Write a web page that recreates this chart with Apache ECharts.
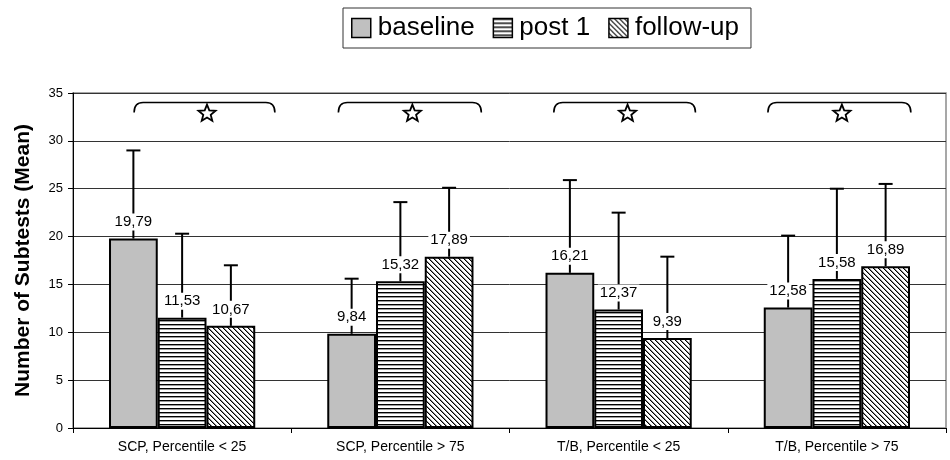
<!DOCTYPE html>
<html>
<head>
<meta charset="utf-8">
<script src="https://cdn.jsdelivr.net/npm/echarts@6/dist/echarts.min.js"></script>
<style>
html,body{margin:0;padding:0;background:#fff;}
#chart{width:950px;height:460px;}
</style>
</head>
<body>
<div id="chart"></div>
<script>
const categories = ['SCP, Percentile < 25', 'SCP, Percentile > 75', 'T/B, Percentile < 25', 'T/B, Percentile > 75'];
const seriesNames = ['baseline', 'post 1', 'follow-up'];
const baseline = [19.79, 9.84, 16.21, 12.58];
const post1 = [11.53, 15.32, 12.37, 15.58];
const followUp = [10.67, 17.89, 9.39, 16.89];
const baselineErrTop = [29.0, 15.6, 25.9, 20.1];
const post1ErrTop = [20.3, 23.6, 22.5, 25.0];
const followUpErrTop = [17.0, 25.1, 17.9, 25.5];
// significance braces: start/end/star position as fractions of the category band, relative to its centre
const braceFrom = [-0.22, -0.284, -0.297, -0.316];
const braceTo = [0.425, 0.371, 0.352, 0.339];
const starAt = [0.114, 0.055, 0.041, 0.023];
const braceTopValue = [34.0, 34.0, 34.0, 34.0];
const braceEndValue = [32.95, 32.95, 32.95, 32.95];
const starValue = [32.85, 32.85, 32.85, 32.85];
const yMin = 0, yMax = 35, yStep = 5;

function makeHPattern() {
  const c = document.createElement('canvas');
  c.width = 4; c.height = 4;
  const g = c.getContext('2d');
  g.fillStyle = '#fff'; g.fillRect(0, 0, 4, 4);
  g.fillStyle = '#000'; g.fillRect(0, 0, 4, 1);
  g.fillStyle = '#9a9a9a'; g.fillRect(0, 1, 4, 1);
  return c;
}
function makeDPattern() {
  const n = 5;
  const c = document.createElement('canvas');
  c.width = n; c.height = n;
  const g = c.getContext('2d');
  g.fillStyle = '#fff'; g.fillRect(0, 0, n, n);
  for (let i = 0; i < n; i++) {
    g.fillStyle = '#000'; g.fillRect(i, i, 1, 1);
    g.fillStyle = '#8a8a8a'; g.fillRect((i + 1) % n, i, 1, 1);
  }
  return c;
}

const fills = [
  '#c0c0c0',
  { image: makeHPattern(), repeat: 'repeat' },
  { image: makeDPattern(), repeat: 'repeat' }
];
const values = [baseline, post1, followUp];
const errTops = [baselineErrTop, post1ErrTop, followUpErrTop];
const CAT_GAP = 0.33;

const fmt = v => v.toFixed(2).replace('.', ',');

const series = [];
values.forEach((vals, s) => {
  series.push({
    name: seriesNames[s],
    type: 'bar',
    data: vals,
    barGap: '0%',
    barCategoryGap: (CAT_GAP * 100) + '%',
    z: 3,
    itemStyle: { color: fills[s], borderColor: '#000', borderWidth: 2 },
    label: {
      show: true, position: 'top', distance: 8,
      formatter: p => fmt(p.value),
      fontFamily: 'Liberation Sans, Arial, sans-serif', fontSize: 15, color: '#000',
      backgroundColor: '#fff', padding: [1, 2]
    },
    emphasis: { disabled: true }
  });
});
values.forEach((vals, s) => {
  series.push({
    name: 'err' + s,
    type: 'custom',
    z: 2,
    data: vals.map((v, i) => [i, v, errTops[s][i]]),
    renderItem: (params, api) => {
      const idx = api.value(0);
      const band = api.size([1, 0])[0];
      const bw = band * (1 - CAT_GAP) / 3;
      const p0 = api.coord([idx, api.value(1)]);
      const p1 = api.coord([idx, api.value(2)]);
      const x = p0[0] + (s - 1) * bw;
      const style = { stroke: '#000', lineWidth: 2 };
      return {
        type: 'group',
        children: [
          { type: 'line', shape: { x1: x, y1: p0[1], x2: x, y2: p1[1] }, style },
          { type: 'line', shape: { x1: x - 7, y1: p1[1], x2: x + 7, y2: p1[1] }, style }
        ]
      };
    },
    silent: true
  });
});

function starPath(cx, cy, R, r) {
  const pts = [];
  for (let k = 0; k < 10; k++) {
    const a = -Math.PI / 2 + k * Math.PI / 5;
    const rad = k % 2 === 0 ? R : r;
    pts.push([cx + rad * Math.cos(a), cy + rad * Math.sin(a)]);
  }
  return pts;
}

series.push({
  name: 'braces',
  type: 'custom',
  z: 4,
  silent: true,
  data: categories.map((c, i) => [i, braceFrom[i], braceTo[i], starAt[i], braceTopValue[i], braceEndValue[i], starValue[i]]),
  renderItem: (params, api) => {
    const idx = api.value(0);
    const band = api.size([1, 0])[0];
    const centre = api.coord([idx, 0])[0];
    const x0 = centre + api.value(1) * band;
    const x1 = centre + api.value(2) * band;
    const xs = centre + api.value(3) * band;
    const yT = api.coord([idx, api.value(4)])[1];
    const yE = api.coord([idx, api.value(5)])[1];
    const yS = api.coord([idx, api.value(6)])[1];
    const r = 9;
    const path = `M${x0},${yE} Q${x0},${yT} ${x0 + r},${yT} L${x1 - r},${yT} Q${x1},${yT} ${x1},${yE}`;
    return {
      type: 'group',
      children: [
        { type: 'path', shape: { pathData: path }, style: { fill: 'none', stroke: '#000', lineWidth: 1.6 } },
        { type: 'polygon', shape: { points: starPath(xs, yS, 9, 3.9) }, style: { fill: '#fff', stroke: '#000', lineWidth: 1.8 } }
      ]
    };
  }
});

const chart = echarts.init(document.getElementById('chart'), null, { renderer: 'canvas' });
chart.setOption({
  animation: false,
  textStyle: { fontFamily: 'Liberation Sans, Arial, sans-serif' },
  legend: {
    data: seriesNames.map(n => ({ name: n, icon: 'rect' })),
    left: 343, top: 8,
    itemWidth: 19, itemHeight: 19, itemGap: 18,
    padding: [7, 12, 7, 8],
    borderColor: '#333', borderWidth: 1, backgroundColor: '#fff',
    textStyle: { fontSize: 26, color: '#000', fontFamily: 'Liberation Sans, Arial, sans-serif', padding: [0, 0, 0, 2] },
    itemStyle: { borderWidth: 1.5, borderColor: '#000' },
    selectedMode: false
  },
  grid: {
    left: 73, right: 4, top: 93, bottom: 32,
    show: true, borderColor: '#8a8a8a', borderWidth: 1.5, backgroundColor: 'transparent'
  },
  xAxis: {
    type: 'category',
    data: categories,
    axisLine: { lineStyle: { color: '#000', width: 1 } },
    axisTick: { show: true, length: 5, lineStyle: { color: '#000' } },
    axisLabel: { fontSize: 14, color: '#000', margin: 12 },
    splitLine: { show: false }
  },
  yAxis: {
    type: 'value',
    min: yMin, max: yMax, interval: yStep,
    name: 'Number of Subtests (Mean)',
    nameLocation: 'middle', nameGap: 39,
    nameTextStyle: { fontSize: 21, fontWeight: 'bold', color: '#000' },
    axisLine: { show: true, lineStyle: { color: '#000', width: 1 } },
    axisTick: { show: true, length: 5, lineStyle: { color: '#000' } },
    axisLabel: { fontSize: 13, color: '#000', margin: 10 },
    splitLine: { show: true, lineStyle: { color: '#333', width: 1 } }
  },
  series
});
</script>
</body>
</html>
